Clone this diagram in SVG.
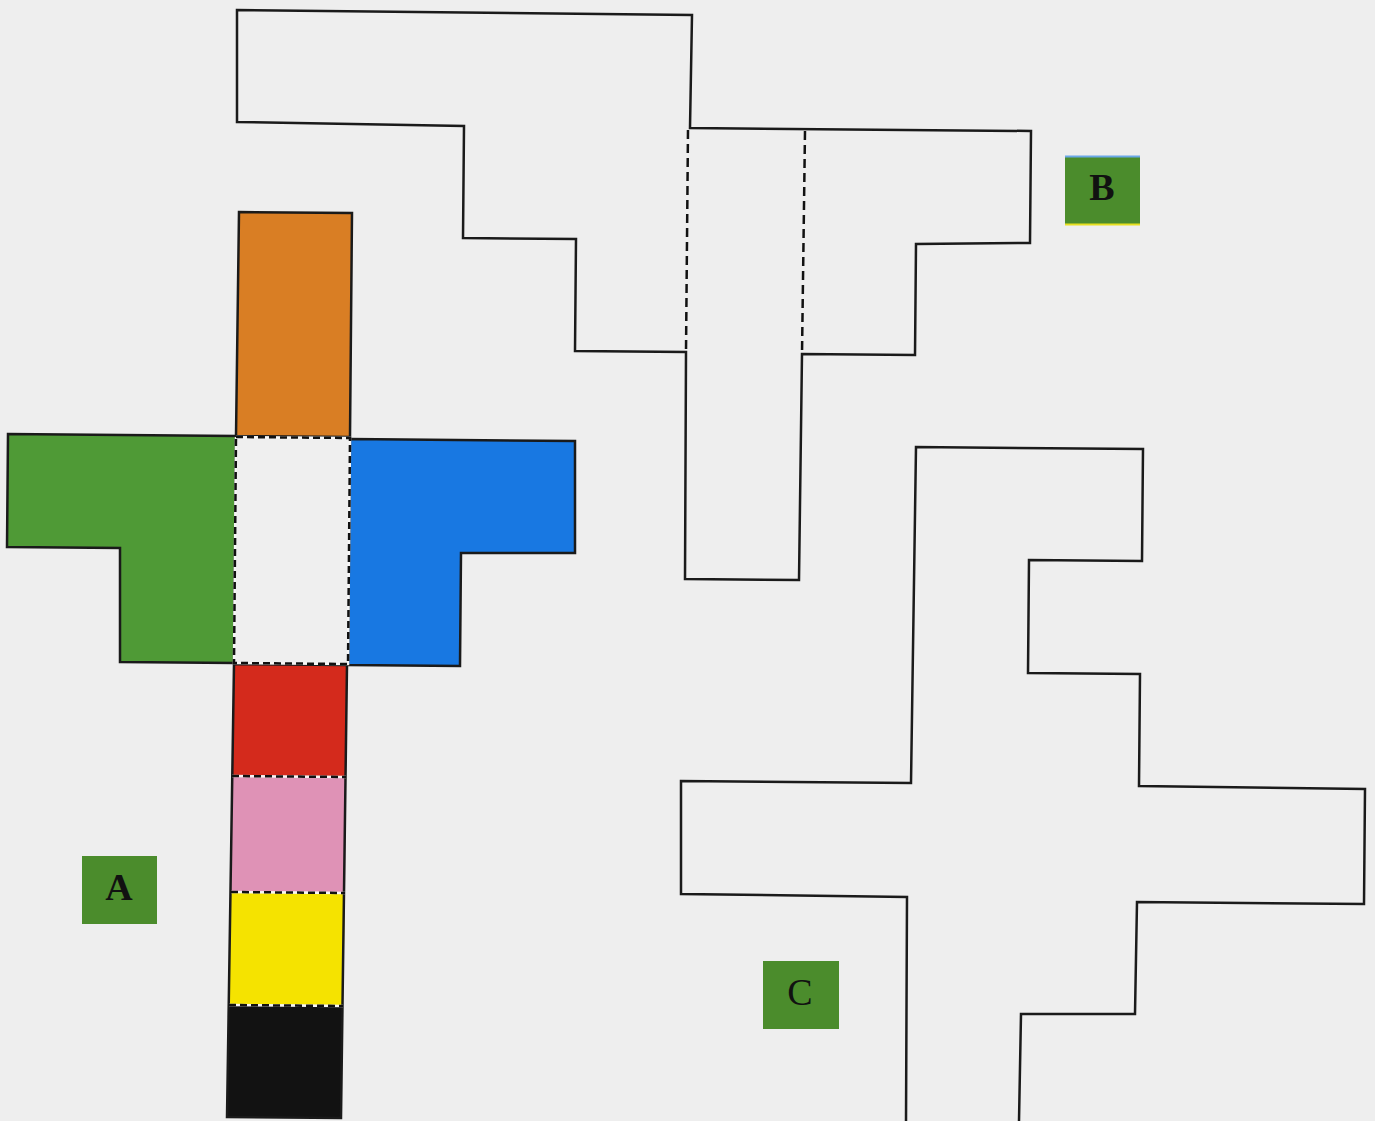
<svg xmlns="http://www.w3.org/2000/svg" width="1375" height="1121" viewBox="0 0 1375 1121">
<style>
.o{stroke:#1a1a1a;stroke-width:2.5;stroke-linejoin:miter}
.d{fill:none;stroke:#111;stroke-width:2.5;stroke-dasharray:7 4}
.u{fill:none;stroke:#f6f6f6;stroke-width:2.5}
.lb{fill:#4b8c2c}
.t{font-family:"Liberation Serif",serif;font-size:38px;font-weight:bold;fill:#111;text-anchor:middle}
</style>
<rect width="1375" height="1121" fill="#eeeeee"/>
<g id="shapeA">
<polygon class="o" fill="#d97e24" points="239,212 352,213 350,437 236,436"/>
<polygon class="o" fill="#4f9a36" points="8,434 236,436 234,663 120,662 120,548 7,547"/>
<polygon class="o" fill="#1878e2" points="350,439 575,441 575,553 461,553 460,666 348,665"/>
<polygon fill="#efefef" points="236,437 350,438 348,664 234,663"/>
<polygon fill="#d42a1c" points="234,664 347,665 346,776 232,776"/>
<polygon fill="#df92b6" points="232,776 346,777 345,892 231,891"/>
<polygon fill="#f5e300" points="231,892 345,893 343,1005 229,1004"/>
<polygon fill="#121212" points="229,1005 343,1006 341,1118 227,1117"/>
<polygon class="o" fill="none" points="234,664 347,665 341,1118 227,1117"/>
<polyline class="u" points="236,437 350,438 348,664 234,663 236,437"/>
<polyline class="d" points="236,437 350,438 348,664 234,663 236,437"/>
<line class="u" x1="232" y1="776" x2="346" y2="777"/>
<line class="d" x1="232" y1="776" x2="346" y2="777"/>
<line class="u" x1="231" y1="892" x2="345" y2="893"/>
<line class="d" x1="231" y1="892" x2="345" y2="893"/>
<line class="u" x1="229" y1="1005" x2="343" y2="1006"/>
<line class="d" x1="229" y1="1005" x2="343" y2="1006"/>
</g>
<g id="shapeB">
<polygon class="o" fill="none" points="237,10 692,15 690,128 1031,131 1030,243 916,244 915,355 802,354 799,580 685,579 686,352 575,351 576,239 463,238 464,126 237,122"/>
<line class="d" x1="688" y1="130" x2="686" y2="352" style="stroke-dasharray:9 5"/>
<line class="d" x1="805" y1="131" x2="802" y2="354" style="stroke-dasharray:9 5"/>
</g>
<g id="shapeC">
<polyline class="o" fill="none" points="906,1121 907,897 681,894 681,781 911,783 916,447 1143,449 1142,561 1029,560 1028,673 1140,674 1139,786 1365,789 1364,904 1137,902 1135,1014 1021,1014 1019,1121"/>
</g>
<g id="labelA">
<rect class="lb" x="82" y="856" width="75" height="68"/>
<text class="t" x="119" y="900">A</text>
</g>
<g id="labelB">
<rect class="lb" x="1065" y="156" width="75" height="69"/>
<line x1="1065" y1="156.5" x2="1140" y2="156.5" stroke="#6aa8e8" stroke-width="2"/>
<line x1="1065" y1="224.5" x2="1140" y2="224.5" stroke="#e8e020" stroke-width="2"/>
<text class="t" x="1102" y="200">B</text>
</g>
<g id="labelC">
<rect class="lb" x="763" y="961" width="76" height="68"/>
<text class="t" x="800" y="1005" style="font-weight:normal">C</text>
</g>
<g id="connectors"/>
</svg>
